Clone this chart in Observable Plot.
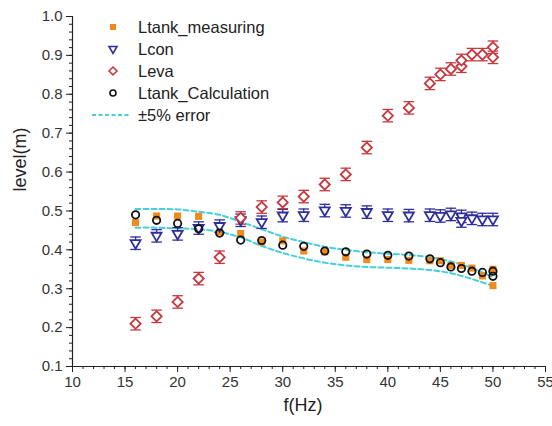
<!DOCTYPE html>
<html><head><meta charset="utf-8">
<script src="https://cdn.jsdelivr.net/npm/d3@7"></script>
<script src="https://cdn.jsdelivr.net/npm/@observablehq/plot@0.6"></script>
<style>
body{margin:0;background:#fff;}
#chart{width:552px;height:426px;}
</style></head><body><div id="chart"></div>
<script>
// ---- data ----
const fMeasuring      = [16,18,20,22,24,26,28,30,32,34,36,38,40,42,44,45,46,47,48,49,50,50];
const ltankMeasuring  = [0.470,0.487,0.487,0.486,0.446,0.442,0.420,0.423,0.397,0.395,0.381,0.375,0.375,0.373,0.372,0.372,0.360,0.360,0.353,0.333,0.350,0.308];

const fCon  = [16,18,20,22,24,26,28,30,32,34,36,38,40,42,44,45,46,47,47,48,49,50];
const lcon  = [0.417,0.436,0.441,0.456,0.461,0.476,0.471,0.488,0.489,0.501,0.500,0.497,0.489,0.488,0.489,0.487,0.491,0.486,0.474,0.481,0.478,0.478];

const fEva  = [16,18,20,22,24,26,28,30,32,34,36,38,40,42,44,45,46,47,47,48,49,50,50];
const leva  = [0.210,0.229,0.266,0.326,0.381,0.482,0.510,0.522,0.537,0.568,0.594,0.663,0.745,0.765,0.828,0.851,0.865,0.872,0.887,0.902,0.902,0.895,0.921];

const fCalc = [16,18,20,22,24,26,28,30,32,34,36,38,40,42,44,45,46,47,48,49,50,50];
const ltankCalculation = [0.490,0.476,0.468,0.454,0.443,0.425,0.424,0.412,0.409,0.397,0.395,0.389,0.386,0.384,0.377,0.367,0.356,0.352,0.345,0.342,0.345,0.332];

const fBand     = [16,18,20,22,24,26,28,30,32,34,36,38,40,42,44,46,48,50];
const bandUpper = [0.505,0.505,0.504,0.498,0.490,0.472,0.453,0.434,0.420,0.408,0.400,0.394,0.390,0.387,0.381,0.370,0.353,0.330];
const bandLower = [0.457,0.457,0.455,0.453,0.446,0.432,0.410,0.392,0.378,0.367,0.360,0.356,0.354,0.352,0.348,0.340,0.325,0.307];

const errorHalf = 0.016; // error bar half-length (m)

const xTicks = [10,15,20,25,30,35,40,45,50,55];
const yTicks = [0.1,0.2,0.3,0.4,0.5,0.6,0.7,0.8,0.9,1.0];
const seriesNames = ["Ltank_measuring","Lcon","Leva","Ltank_Calculation","±5% error"];

// ---- build tables ----
const rec = (fs, vs) => fs.map((f, i) => ({f, v: vs[i]}));
const meas = rec(fMeasuring, ltankMeasuring);
const con = rec(fCon, lcon);
const eva = rec(fEva, leva);
const calc = rec(fCalc, ltankCalculation);
const upper = rec(fBand, bandUpper);
const lower = rec(fBand, bandLower);

const cOrange = "#ef8a1f", cBlue = "#2e2e9c", cRed = "#c7383e", cBlack = "#111", cCyan = "#45cfe0";
const FONT = "'Liberation Sans', Arial, sans-serif";

const triDown = {
  draw(ctx, size) {
    const r = Math.sqrt(size / Math.PI);
    ctx.moveTo(-r, -0.62 * r);
    ctx.lineTo(r, -0.62 * r);
    ctx.lineTo(0, 1.1 * r);
    ctx.closePath();
  }
};

function errBars(data, color) {
  return [
    Plot.ruleX(data, {x: "f", y1: d => d.v - errorHalf, y2: d => d.v + errorHalf, stroke: color, strokeWidth: 1.3}),
    Plot.link(data, {x1: d => d.f - 0.5, x2: d => d.f + 0.5, y1: d => d.v + errorHalf, y2: d => d.v + errorHalf, stroke: color, strokeWidth: 1.3}),
    Plot.link(data, {x1: d => d.f - 0.5, x2: d => d.f + 0.5, y1: d => d.v - errorHalf, y2: d => d.v - errorHalf, stroke: color, strokeWidth: 1.3})
  ];
}

const minorX = d3.range(10, 55.01, 1);
const minorY = d3.range(0, 46).map(i => +(0.1 + i * 0.02).toFixed(2));

const plot = Plot.plot({
  width: 552,
  height: 426,
  marginLeft: 72,
  marginRight: 7,
  marginTop: 16,
  marginBottom: 60,
  style: {fontFamily: FONT, fontSize: "15px", color: "#333", background: "#fff"},
  x: {domain: [10, 55], label: null},
  y: {domain: [0.1, 1.0], label: null},
  marks: [
    // ±5% error band lines
    Plot.line(upper, {x: "f", y: "v", stroke: cCyan, strokeWidth: 2, strokeDasharray: "5,3", curve: "catmull-rom"}),
    Plot.line(lower, {x: "f", y: "v", stroke: cCyan, strokeWidth: 2, strokeDasharray: "5,3", curve: "catmull-rom"}),
    // error bars
    ...errBars(con, cBlue),
    ...errBars(eva, cRed),
    // points
    Plot.dot(meas, {x: "f", y: "v", symbol: "square", r: 4, fill: cOrange, stroke: "none"}),
    Plot.dot(con, {x: "f", y: "v", symbol: triDown, r: 5, fill: "white", stroke: cBlue, strokeWidth: 1.8}),
    Plot.dot(eva, {x: "f", y: "v", symbol: "diamond2", r: 4.6, fill: "white", stroke: cRed, strokeWidth: 1.8}),
    Plot.dot(calc, {x: "f", y: "v", symbol: "circle", r: 3.7, fill: "none", stroke: cBlack, strokeWidth: 1.8}),
    // axes
    Plot.ruleY([0.1], {stroke: "#222", strokeWidth: 1.2}),
    Plot.ruleX([10], {stroke: "#222", strokeWidth: 1.2}),
    Plot.axisX({ticks: minorX, tickSize: 3, text: null, stroke: "#222"}),
    Plot.axisX({ticks: xTicks, tickSize: 6, tickPadding: 4, tickFormat: d => String(d), stroke: "#222", fill: "#333", fontSize: 15, label: null}),
    Plot.axisY({ticks: minorY, tickSize: 3, text: null, stroke: "#222"}),
    Plot.axisY({ticks: yTicks, tickSize: 6, tickPadding: 4, tickFormat: d3.format(".1f"), stroke: "#222", fill: "#333", fontSize: 15, label: null}),
    Plot.text(["level(m)"], {frameAnchor: "left", dx: -52, rotate: -90, fontSize: 18, fill: "#222"}),
    Plot.text(["f(Hz)"], {frameAnchor: "bottom", dx: -6, dy: 44, fontSize: 18, fill: "#222"})
  ]
});

document.getElementById("chart").appendChild(plot);

// ---- legend (inside plot area, top-left) ----
const svg = d3.select(plot);
const lg = svg.append("g").attr("font-family", FONT).attr("font-size", 16.5).attr("fill", "#222").attr("text-anchor", "start");
const rowY = i => 27 + i * 22;
const symX = 113, textX = 138;
const legendSymbols = [
  {type: d3.symbolSquare, size: 36, fill: cOrange, stroke: "none"},
  {type: triDown, size: 50, fill: "white", stroke: cBlue},
  {type: d3.symbolDiamond2, size: 40, fill: "white", stroke: cRed},
  {type: d3.symbolCircle, size: 28, fill: "none", stroke: cBlack}
];
legendSymbols.forEach((s, i) => {
  lg.append("path")
    .attr("d", d3.symbol(s.type, s.size)())
    .attr("transform", `translate(${symX},${rowY(i)})`)
    .attr("fill", s.fill).attr("stroke", s.stroke).attr("stroke-width", 1.6);
});
lg.append("line").attr("x1", 92).attr("x2", 131).attr("y1", rowY(4)).attr("y2", rowY(4))
  .attr("stroke", cCyan).attr("stroke-width", 2).attr("stroke-dasharray", "4,2.5");
seriesNames.forEach((name, i) => {
  lg.append("text").attr("x", textX).attr("y", rowY(i)).attr("dy", "0.35em").attr("text-anchor", "start").text(name);
});
</script>
</body></html>
